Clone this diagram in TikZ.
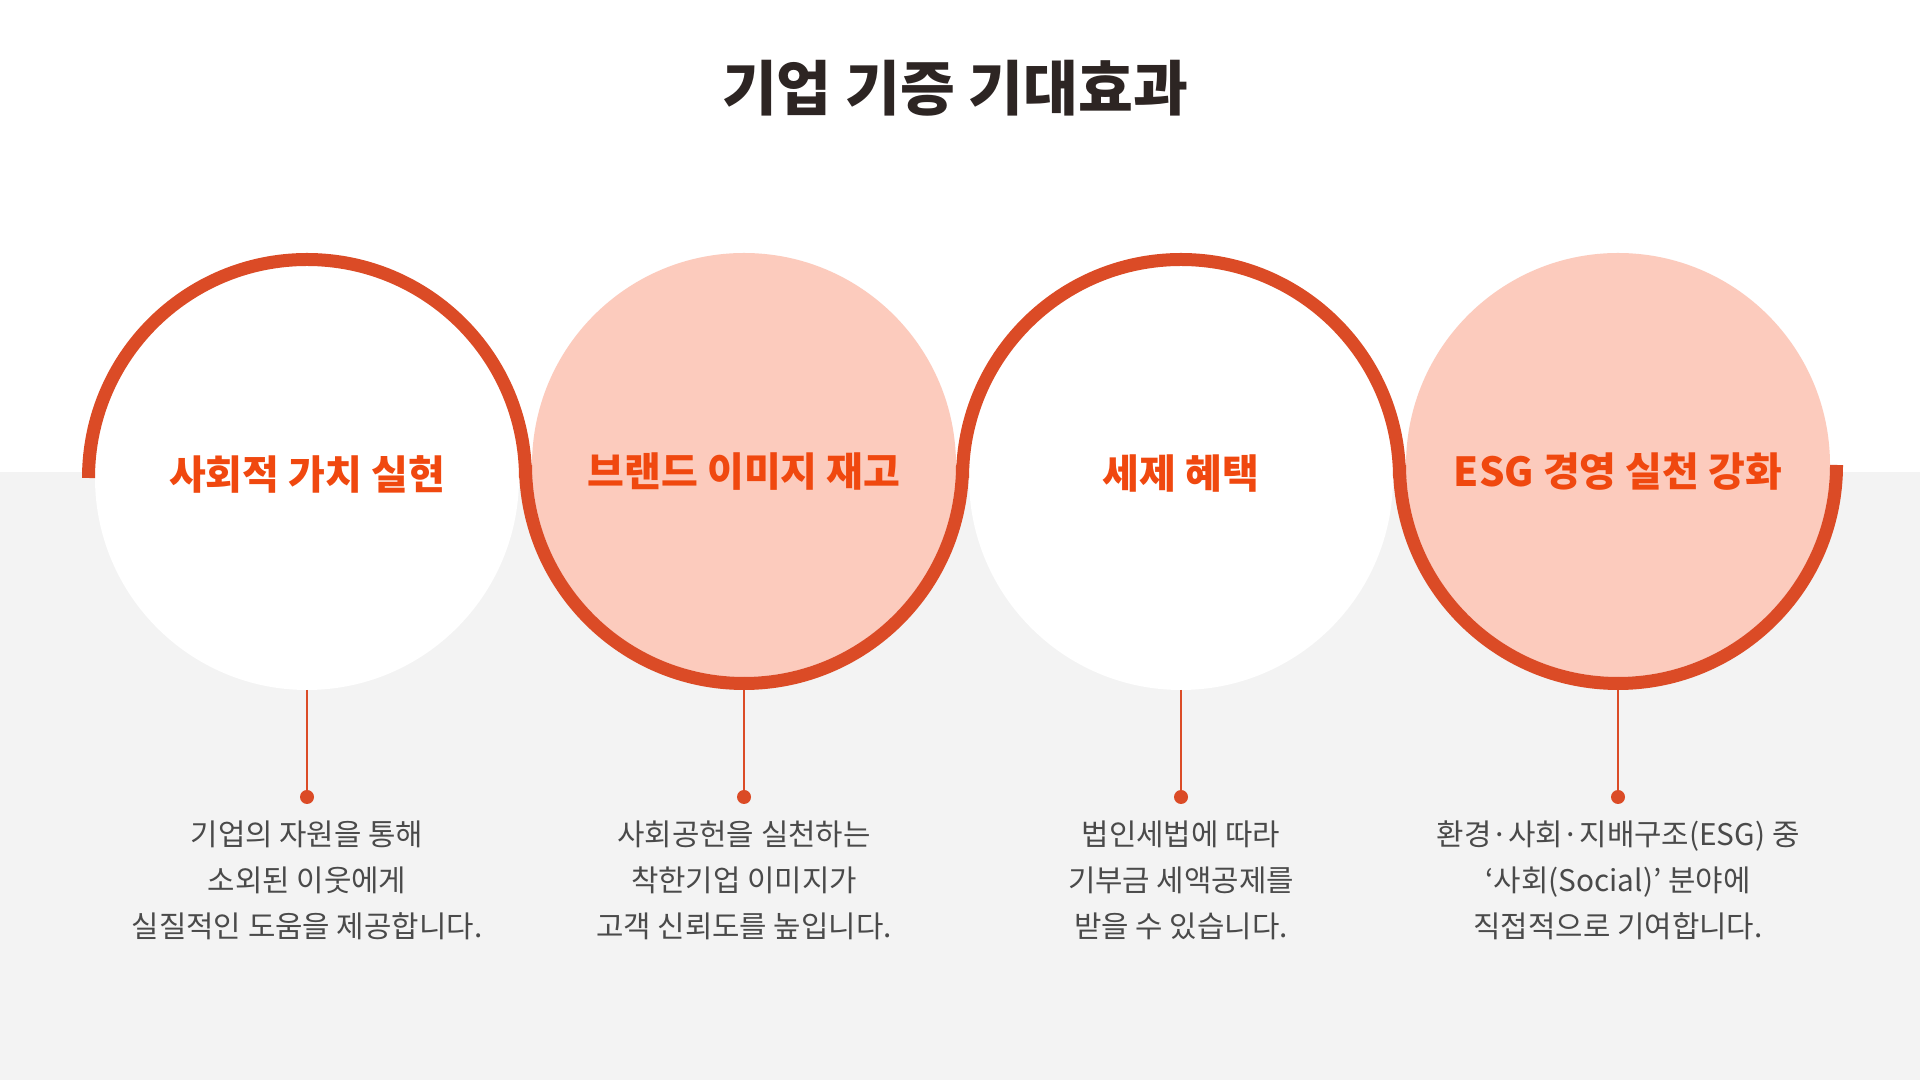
\documentclass[tikz,border=0pt]{standalone}
\usepackage{fontspec}
\usepackage{xcolor}
\usetikzlibrary{positioning, calc}
\setmainfont{Noto Sans CJK KR}
\definecolor{accentred}{HTML}{DB4B26}
\definecolor{labelred}{HTML}{F0480F}
\definecolor{softpink}{HTML}{FCCBBD}
\definecolor{bandgray}{HTML}{F3F3F3}
\definecolor{titledark}{HTML}{2D2523}
\definecolor{bodygray}{HTML}{4A4A4A}

\begin{document}
\begin{tikzpicture}[
    x=0.5pt, y=0.5pt,
    disc/.style={circle, minimum size=212pt, inner sep=0pt, outer sep=0pt, fill=#1},
    ring/.style={draw=accentred, line width=6.5pt},
    stem/.style={draw=accentred, line width=1pt},
    dot/.style={circle, fill=accentred, minimum size=7pt, inner sep=0pt, outer sep=0pt},
    head/.style={font=\fontsize{20}{24}\selectfont\bfseries, text=labelred, inner sep=0pt},
    body/.style={font=\fontsize{14.9}{23}\selectfont, text=bodygray, align=center, inner sep=0pt}
]

% Background
\fill[white] (0,0) rectangle (1920,1080);
\fill[bandgray] (0,0) rectangle (1920,608);
\useasboundingbox (0,0) rectangle (1920,1080);

% Title
\node[font=\fontsize{29.8}{36}\selectfont\bfseries, text=titledark] (title) at (955,992) {기업 기증 기대효과};

% Circles
\node[disc=white] (c1) at (307,602) {};
\node[disc=softpink] (c2) at (744,615) {};
\node[disc=white] (c3) at (1181,602) {};
\node[disc=softpink] (c4) at (1618,615) {};

% Dots under the circles
\node[dot] (d1) at (307,283) {};
\node[dot] (d2) at (744,283) {};
\node[dot] (d3) at (1181,283) {};
\node[dot] (d4) at (1618,283) {};

\draw[stem] (c1.south) -- (d1);
\draw[stem] (c2.south) -- (d2);
\draw[stem] (c3.south) -- (d3);
\draw[stem] (c4.south) -- (d4);

% Half rings
\draw[ring] ([xshift=-3.25pt]c1.west) arc[start angle=180, end angle=0, radius=109.25pt];
\draw[ring] ([xshift=-3.25pt]c2.west) arc[start angle=180, end angle=360, radius=109.25pt];
\draw[ring] ([xshift=-3.25pt]c3.west) arc[start angle=180, end angle=0, radius=109.25pt];
\draw[ring] ([xshift=-3.25pt]c4.west) arc[start angle=180, end angle=360, radius=109.25pt];

% Headings
\node[head] (h1) at (307,606) {사회적 가치 실현};
\node[head] (h2) at (744,608) {브랜드 이미지 재고};
\node[head] (h3) at (1181,606) {세제 혜택};
\node[head] (h4) at (1618,608) {ESG 경영 실천 강화};

% Descriptions
\node[body, below=8pt of d1] (t1) {기업의 자원을 통해\\소외된 이웃에게\\실질적인 도움을 제공합니다.};
\node[body, below=8pt of d2] (t2) {사회공헌을 실천하는\\착한기업 이미지가\\고객 신뢰도를 높입니다.};
\node[body, below=8pt of d3] (t3) {법인세법에 따라\\기부금 세액공제를\\받을 수 있습니다.};
\node[body, below=8pt of d4] (t4) {환경·사회·지배구조(ESG) 중\\‘사회(Social)’ 분야에\\직접적으로 기여합니다.};

\end{tikzpicture}
\end{document}
